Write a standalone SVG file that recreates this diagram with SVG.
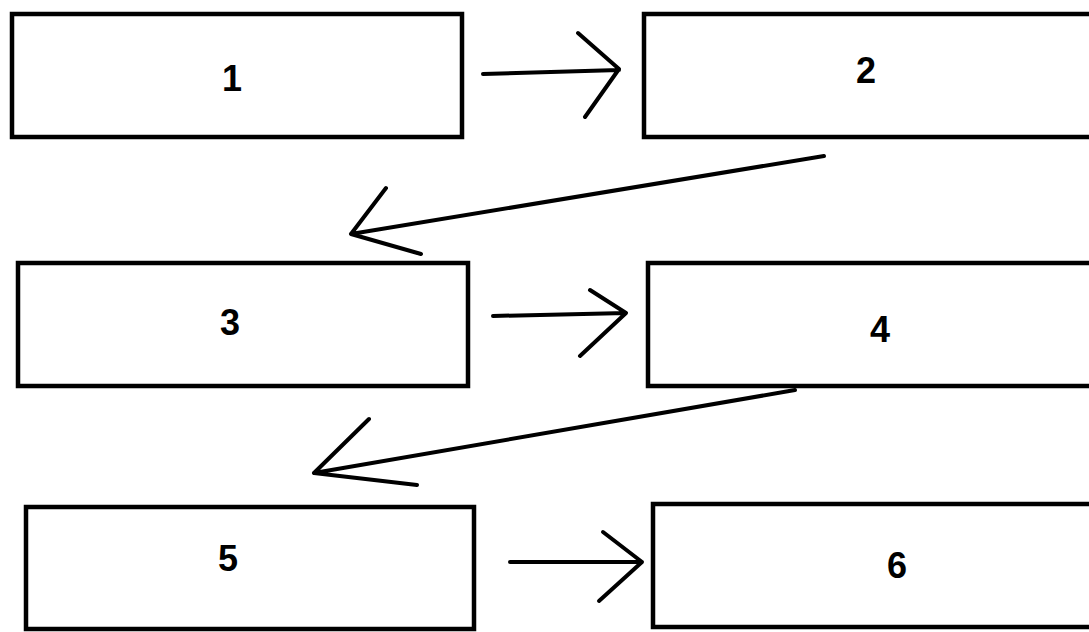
<svg xmlns="http://www.w3.org/2000/svg" width="1089" height="632" viewBox="0 0 1089 632">
<style>
.box{fill:#fff;stroke:#000;stroke-width:4.5}
.lbl{font-family:"Liberation Sans",Arial,sans-serif;font-weight:bold;font-size:36px;fill:#000;text-anchor:middle}
.c{fill:none;stroke:#000;stroke-width:4;stroke-linecap:round;stroke-linejoin:round}
</style>
<rect width="1089" height="632" fill="#fff"/>
<g id="node1"><rect class="box" x="12" y="14" width="450" height="123"/><text class="lbl" x="232" y="91">1</text></g>
<g id="node2"><rect class="box" x="644" y="14" width="460" height="123"/><text class="lbl" x="866" y="83">2</text></g>
<g id="node3"><rect class="box" x="18" y="263" width="450" height="123"/><text class="lbl" x="230" y="335">3</text></g>
<g id="node4"><rect class="box" x="648" y="263" width="460" height="123"/><text class="lbl" x="880" y="342">4</text></g>
<g id="node5"><rect class="box" x="26" y="507" width="448" height="122"/><text class="lbl" x="228" y="571">5</text></g>
<g id="node6"><rect class="box" x="653" y="504" width="460" height="123"/><text class="lbl" x="897" y="578">6</text></g>
<g id="connectors">
<path class="c" d="M483 74 L619 70 M578 33 L619 69 L585 117"/>
<path class="c" d="M824 156 L351 234 M386 188 L351 234 L421 254"/>
<path class="c" d="M493 316 L626 313 M590 290 L626 313 L580 356"/>
<path class="c" d="M795 390 L314 473 M369 419 L314 473 L417 485"/>
<path class="c" d="M510 562 L642 562 M603 532 L642 562 L599 601"/>
</g>
</svg>
